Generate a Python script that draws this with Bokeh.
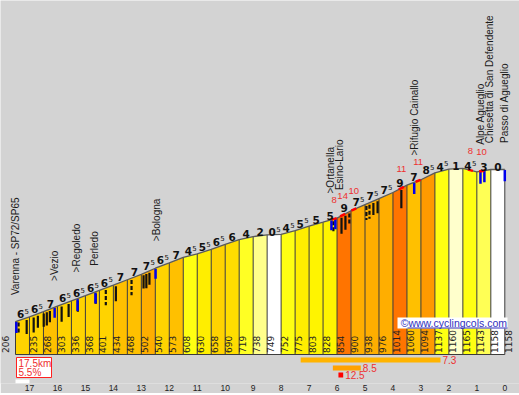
import numpy as np
from bokeh.plotting import figure
from bokeh.models import Range1d, FixedTicker
from bokeh.core.properties import value
from bokeh.embed import file_html
from bokeh.resources import INLINE

# ---------------- data ----------------
km_points = [17.5, 17, 16.5, 16, 15.5, 15, 14.5, 14, 13.5, 13, 12.5, 12, 11.5, 11,
             10.5, 10, 9.5, 9, 8.5, 8, 7.5, 7, 6.5, 6, 5.5, 5, 4.5, 4, 3.5, 3,
             2.5, 2, 1.5, 1, 0.5, 0]
elevations = [206, 235, 268, 303, 336, 368, 401, 434, 468, 502, 540, 573, 608, 630,
              658, 690, 719, 738, 749, 752, 775, 803, 828, 854, 900, 938, 976, 1014,
              1060, 1094, 1137, 1160, 1165, 1143, 1158, 1158]
gradients = [6.5, 6.5, 7, 6.5, 6.5, 6.5, 6.5, 7, 7, 7.5, 6.5, 7, 4.5, 5.5, 6.5, 6,
             4, 2, 0.5, 4.5, 5.5, 5, 5, 9, 7.5, 7.5, 7.5, 9, 7, 8.5, 4.5, 1, 4.5, 3, 0]

place_names = ["Varenna - SP72/SP65", ">Vezio", ">Regoledo", "Perledo", ">Bologna",
               ">Ortanella", "Esino-Lario", ">Rifugio Cainallo", "Alpe Agueglio",
               "Chiesetta di San Defendente", "Passo di Agueglio"]
place_km = [17.5, 16.12, 15.31, 14.67, 12.45, 6.23, 5.9, 3.22, 0.87, 0.54, 0.0]

steep_km = [6.1, 5.8, 5.4, 3.7, 3.1, 1.23, 0.83]
steep_pct = [8, 14, 10, 11, 11, 8, 10]

black_km = [17.39, 17.1, 16.85, 16.7, 16.49, 16.38, 16.27, 15.85, 15.6, 15.27, 14.63,
            14.27, 13.91, 13.35, 12.92, 12.82, 12.71, 6.13, 5.84, 5.7, 5.56, 4.95,
            4.84, 4.7, 4.55, 3.7]
black_depth_m = [75, 88, 95, 75, 82, 82, 70, 95, 82, 70, 63, 95, 95, 95, 82, 88, 75,
                 63, 100, 88, 75, 88, 88, 75, 75, 113]
black_broken = [1, 0, 0, 0, 0, 0, 0, 0, 0, 0, 0, 1, 0, 1, 0, 0, 0, 1, 0, 0, 1, 1, 1, 0, 0, 0]

blue_km = [17.47, 16.1, 15.28, 14.64, 12.49, 6.2, 6.06, 3.24, 0.87, 0.73, 0.0]
blue_depth_m = [70, 63, 75, 70, 63, 63, 63, 70, 75, 70, 70]

best_pct = [7.3, 8.5, 12.5]
best_from_km = [7.3, 6.15, 5.95]
best_to_km = [2.3, 5.15, 5.78]

climb_length_km = 17.5
climb_avg_pct = 5.5
km_ticks = list(range(0, 18))

# ---------------- styles / layout ----------------
W, FH = 519, 383
PXKM = 27.96                      # px per km
KM0_PX = 504.3                    # screen x of km 0
x_start = (KM0_PX - 0) / PXKM     # km at screen x = 0
x_end = -(W - KM0_PX) / PXKM
BASE_PX = 354.0                   # screen y of 0 m
PXM = (BASE_PX - 169.0) / 1158.0  # px per metre
y_top = BASE_PX / PXM
y_bot = -(FH - BASE_PX) / PXM


def dy(px):
    return px / PXM


def dx(px):
    return px / PXKM


def km_at(px):
    return (KM0_PX - px) / PXKM


GRAD_COLORS = {0: "#FFFFFF", 0.5: "#FFFFFF", 1: "#FFFFCC", 2: "#FFFF8C", 3: "#FFFF55",
               4: "#FFFF24", 4.5: "#FFFF12", 5: "#FFF400", 5.5: "#FFEE00", 6: "#FFDD00",
               6.5: "#FFD300", 7: "#FFC000", 7.5: "#FFAE00", 8.5: "#FF9A00", 9: "#FF7400"}
BG = "#D3D3D3"
RED = "#EE3030"

kp_inc = np.array(km_points[::-1], dtype=float)
el_inc = np.array(elevations[::-1], dtype=float)


def elev_at(k):
    return np.interp(k, kp_inc, el_inc)


p = figure(frame_width=W, frame_height=FH, output_backend="svg", toolbar_location=None,
           x_range=Range1d(x_start, x_end), y_range=Range1d(y_bot, y_top),
           y_axis_location=None, min_border=0)
p.background_fill_color = BG
p.border_fill_color = BG
p.outline_line_color = None
p.grid.visible = False

# columns
xs, ys, cols = [], [], []
for i, g in enumerate(gradients):
    k0, k1 = km_points[i], km_points[i + 1]
    e0, e1 = elevations[i], elevations[i + 1]
    xs.append([k0, k0, k1, k1])
    ys.append([0, e0, e1, 0])
    cols.append(GRAD_COLORS[g])
p.patches(xs, ys, fill_color=cols, line_color=None)

# column separators, baseline
p.segment(x0=km_points, y0=[0] * len(km_points), x1=km_points, y1=elevations,
          line_color="#3c3c3c", line_width=1)
p.line([km_points[0], km_points[-1]], [0, 0], line_color="#3c3c3c", line_width=1)

# black & blue detail marks
bk_top = [elev_at(k) - dy(2) for k in black_km]
bk_bot = [t - d for t, d in zip(bk_top, black_depth_m)]
for dash_flag in (0, 1):
    idx = [i for i, b in enumerate(black_broken) if b == dash_flag]
    p.segment(x0=[black_km[i] for i in idx], y0=[bk_top[i] for i in idx],
              x1=[black_km[i] for i in idx], y1=[bk_bot[i] for i in idx],
              line_color="#111111", line_width=2.2,
              line_dash="solid" if dash_flag == 0 else "4 2")
bl_top = [elev_at(k) - dy(0.5) for k in blue_km]
p.segment(x0=blue_km, y0=bl_top, x1=blue_km,
          y1=[t - d for t, d in zip(bl_top, blue_depth_m)],
          line_color="#0000EE", line_width=2.5)

# profile line
p.line(km_points, elevations, line_color="#5a5a5a", line_width=1.3)

# red steep spots
rx0 = [k + dx(2.5) for k in steep_km]
rx1 = [k - dx(2.5) for k in steep_km]
p.segment(x0=rx0, y0=[elev_at(k) for k in rx0], x1=rx1, y1=[elev_at(k) for k in rx1],
          line_color="#FF0000", line_width=2.5)
p.text(x=steep_km, y=[elev_at(k) + dy(19) for k in steep_km],
       text=[str(v) for v in steep_pct], text_align="center", text_baseline="middle",
       text_font=value("Liberation Sans"), text_font_size="9.5px", text_color=RED)

# gradient labels (integer part + superscript 5)
mx, my, mt, ma, sx_, sy_ = [], [], [], [], [], []
for i, g in enumerate(gradients):
    c = (km_points[i] + km_points[i + 1]) / 2
    base = max(elevations[i], elevations[i + 1]) + dy(2.5)
    half = (g % 1) != 0
    mt.append(str(int(g)))
    my.append(base)
    if half:
        mx.append(c - dx(1.8))
        ma.append("right")
        sx_.append(c - dx(2.1))
        sy_.append(base + dy(3.3))
    else:
        mx.append(c)
        ma.append("center")
p.text(x=mx, y=my, text=mt, text_align=ma, text_baseline="alphabetic",
       text_font=value("DejaVu Sans"), text_font_style="bold", text_font_size="10.5px",
       text_color="#111111")
p.text(x=sx_, y=sy_, text=["5"] * len(sx_), text_align="left", text_baseline="alphabetic",
       text_font=value("DejaVu Sans"), text_font_size="7px", text_color="#111111")

# elevation labels (rotated)
ex = []
for i, k in enumerate(km_points):
    if i == 0:
        ex.append(k + dx(10.5))
    elif i == len(km_points) - 1:
        ex.append(k - dx(3.8))
    else:
        ex.append(k - dx(3.6))
p.text(x=ex, y=[dy(1.5)] * len(ex), text=[str(e) for e in elevations], angle=np.pi / 2,
       text_align="left", text_baseline="middle", text_font=value("DejaVu Sans"),
       text_font_size="9px", text_color="#222222")

# place names
p.text(x=place_km, y=[elev_at(k) + dy(26.5) for k in place_km], text=place_names,
       angle=np.pi / 2, text_align="left", text_baseline="middle",
       text_font=value("Liberation Sans"), text_font_size="10px", text_color="#1a1a1a")

# watermark
p.quad(left=[km_at(397)], right=[km_at(507)], top=[dy(37)], bottom=[dy(26)],
       fill_color="white", line_color=None)
p.segment(x0=[km_at(407)], y0=[dy(26.5)], x1=[km_at(507)], y1=[dy(26.5)],
          line_color="#3030C0", line_width=1)
p.text(x=[km_at(506.5)], y=[dy(32)], text=["©www.cyclingcols.com"],
       text_align="right", text_baseline="middle", text_font=value("Liberation Sans"),
       text_font_size="10.5px", text_color="#3030C0")

# summary box
box_l, box_r = km_at(16), km_at(51)
p.quad(left=[box_l], right=[box_r], top=[-dy(3)], bottom=[-dy(23)],
       fill_color="white", line_color="#FF2020", line_width=1)
p.text(x=[km_at(18), km_at(18)], y=[-dy(8.5), -dy(17.5)],
       text=[f"{climb_length_km}km", f"{climb_avg_pct}%"], text_align="left",
       text_baseline="middle", text_font=value("Liberation Sans"), text_font_size="10px",
       text_color=RED)

# steepest stretches
row_top = [3.0, 11.0, 18.0]
row_h = [5.0, 5.0, 5.0]
p.quad(left=best_from_km, right=best_to_km, top=[-dy(t) for t in row_top],
       bottom=[-dy(t + h) for t, h in zip(row_top, row_h)],
       fill_color=["#FFB400", "#FFA200", "#FF0000"], line_color=None)
p.text(x=[k - dx(2) for k in best_to_km], y=[-dy(t + h / 2) for t, h in zip(row_top, row_h)],
       text=[str(v) for v in best_pct], text_align="left", text_baseline="middle",
       text_font=value("Liberation Sans"), text_font_size="10px", text_color=RED)

# km scale bar
seg_l = [17.5] + [float(k) for k in km_ticks[::-1][1:]]
seg_r = [float(k) for k in km_ticks[::-1]]
seg_col = ["white" if i % 2 == 0 else "black" for i in range(len(seg_l))]
p.quad(left=seg_l, right=seg_r, top=[-dy(25)] * len(seg_l), bottom=[-dy(29)] * len(seg_l),
       fill_color=seg_col, line_color=None)

# axis
p.xaxis.ticker = FixedTicker(ticks=km_ticks)
p.xaxis.axis_line_color = None
p.xaxis.major_tick_line_color = None
p.xaxis.minor_tick_line_color = None
p.xaxis.major_tick_out = 0
p.xaxis.major_tick_in = 0
p.xaxis.major_label_standoff = 1
p.xaxis.major_label_text_font = "Liberation Sans"
p.xaxis.major_label_text_font_size = "8.5px"
p.xaxis.major_label_text_color = "#222222"

open("out.html", "w").write(file_html(p, INLINE))
